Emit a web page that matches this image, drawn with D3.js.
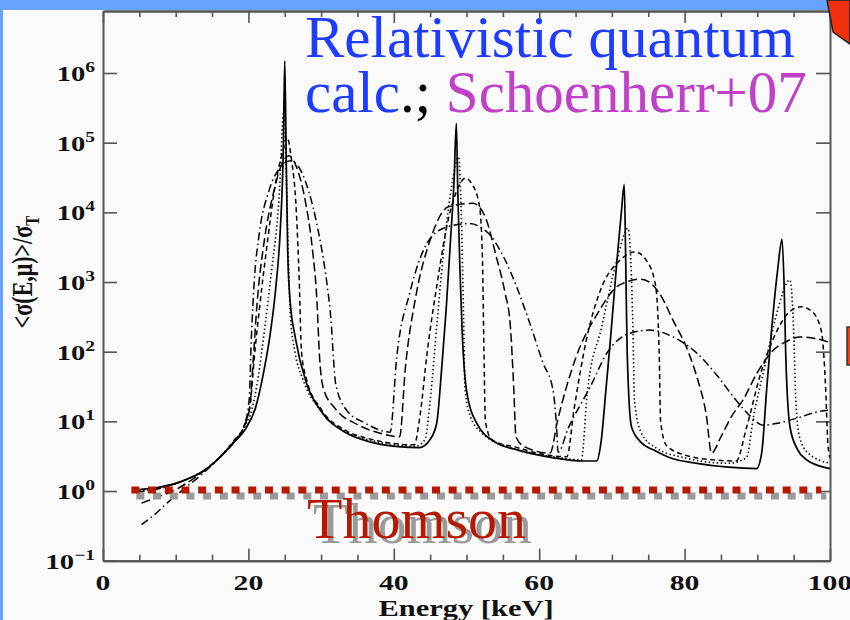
<!DOCTYPE html>
<html>
<head>
<meta charset="utf-8">
<script src="https://cdn.jsdelivr.net/npm/d3@7"></script>
<style>
  html, body { margin: 0; padding: 0; background: #fafafa; }
  svg { display: block; }
</style>
</head>
<body>
<svg width="850" height="620"></svg>
<script>
  // axis ticks
  const energyMajorTicks = [0, 20, 40, 60, 80, 100];
  const energyMinorTicks = [5, 10, 15, 25, 30, 35, 45, 50, 55, 65, 70, 75, 85, 90, 95];
  const sigmaDecades = [0.1, 1, 10, 100, 1e3, 1e4, 1e5, 1e6];
  const decadeExponents = ['\u22121', '0', '1', '2', '3', '4', '5', '6'];

  // <sigma(E,mu)>/sigma_T vs energy [keV], one array per angle (narrow -> broad)
  const sigmaCurve1 = [
    [5, 1.05], [8, 1.15], [11, 1.4], [14, 2.0], [16, 3.0], [18, 5.0], [19.5, 7.5], [21, 16], [22, 45], [23, 180],
    [23.8, 900], [24.4, 6000], [24.8, 80000], [25.0, 1.5e6], [25.2, 60000], [25.4, 3000], [25.7, 600], [26.5, 150],
    [28, 35], [30, 14], [33.5, 6.8], [37, 5.0], [41, 4.3], [43.5, 4.2], [45, 5.5], [45.9, 9.4], [46.6, 60], [47.2, 400],
    [47.8, 4000], [48.3, 30000], [48.6, 1.9e5], [48.8, 20000], [49.1, 1500], [49.4, 200], [50.0, 28], [51.4, 9.4],
    [54, 5.0], [57, 3.9], [62, 3.0], [66, 2.7], [67.9, 2.7], [68.5, 5], [69.2, 30], [69.8, 150], [70.7, 2070],
    [71.3, 10000], [71.7, 2.5e4], [71.9, 2000], [72.1, 100], [72.7, 8.3], [74, 5.0], [75.7, 3.9], [78, 3.0],
    [81.7, 2.5], [86, 2.2], [89.9, 2.1], [90.6, 3.5], [91.3, 30], [92.0, 225], [92.8, 1500], [93.4, 4100],
    [93.7, 800], [93.9, 100], [94.5, 8.3], [95.5, 4.0], [96.8, 2.8], [98.5, 2.3], [100, 2.1]
  ];
  const sigmaCurve2 = [
    [5, 1.0], [8, 1.1], [11, 1.4], [14, 2.0], [16, 3.0], [18, 5.2], [19.5, 8.5], [20.5, 15], [21.3, 40], [22.2, 200],
    [23.2, 1500], [24.2, 15000], [24.9, 3e5], [25.2, 40000], [25.5, 2000], [25.8, 300], [26.4, 100], [27.5, 40],
    [30, 14], [33.5, 7], [37, 5.3], [40, 4.6], [43, 4.4], [44.3, 5.5], [45, 20], [46, 300], [47, 4000], [48, 25000],
    [48.9, 6.2e4], [49.3, 8000], [49.6, 300], [49.8, 30], [50.5, 12], [52, 7], [56, 4.2], [62, 3.1], [65.8, 2.8],
    [66.6, 25], [68.6, 228], [70.7, 2070], [72.2, 5900], [72.6, 2000], [72.9, 200], [73.1, 20], [74, 7], [76, 4.2],
    [80, 3.0], [86, 2.5], [88.5, 3], [89.5, 12], [91, 60], [92.5, 300], [94.5, 1070], [95.0, 200], [95.3, 20],
    [95.8, 6], [97, 3.5], [100, 2.5]
  ];
  const sigmaCurve3 = [
    [5, 0.97], [8, 1.1], [11, 1.4], [14, 2.0], [16, 3.0], [18, 5.3], [19.5, 9], [20.3, 20], [20.8, 80], [21.5, 400],
    [22.5, 3000], [23.7, 25000], [24.8, 80000], [25.3, 1.2e5], [25.9, 60000], [26.6, 10000], [27.0, 1000],
    [27.3, 100], [28, 40], [30, 15], [33.5, 7.3], [37, 5.5], [40, 4.8], [42.8, 4.6], [43.6, 12], [44.6, 100],
    [46, 1000], [47.5, 8000], [48.8, 22000], [49.8, 3.1e4], [50.8, 25000], [51.8, 12000], [52.2, 2000], [52.4, 100],
    [52.6, 10], [53.5, 5.4], [57, 4.2], [61, 3.3], [63.8, 3.1], [64.8, 15], [66.5, 150], [68.5, 800], [71, 2000],
    [73.2, 2700], [74.8, 2000], [76.0, 900], [76.5, 100], [76.7, 10], [77.5, 4.5], [80, 3.3], [84, 2.8], [87.1, 2.7],
    [88.5, 8], [90.5, 50], [92.5, 180], [94.5, 380], [96, 440], [97.5, 380], [98.8, 200], [99.4, 30], [99.7, 5], [100, 3.0]
  ];
  const sigmaCurve4 = [
    [5.3, 0.67], [7.5, 0.82], [9.6, 1.0], [12, 1.4], [14, 2.0], [16, 3.0], [18, 5.0], [19.3, 8], [20.2, 16], [20.6, 60],
    [21.2, 500], [22.2, 4000], [23.5, 20000], [24.8, 55000], [25.6, 65000], [26.6, 45000], [27.8, 15000],
    [28.8, 3000], [29.4, 600], [29.8, 80], [30.3, 30], [32, 15], [35, 9], [38, 6.8], [40.8, 6.0], [41.6, 60],
    [43, 600], [45, 4000], [47.5, 12000], [50.9, 13500], [52.5, 9000], [54.1, 2300], [55.3, 700], [56, 257],
    [56.5, 30], [56.8, 6], [58, 4.3], [61.5, 3.5], [62.5, 10], [65, 80], [68, 350], [71, 900], [74, 1100],
    [76.5, 700], [78.4, 284], [80.5, 100], [81.7, 43], [83, 12], [83.7, 3.5], [85, 6], [86.5, 12], [88, 20],
    [90, 50], [92.2, 105], [94, 140], [95.9, 163], [98, 155], [100, 135]
  ];
  const sigmaCurve5 = [
    [5.3, 0.33], [7, 0.45], [9, 0.7], [11.5, 1.15], [13.5, 1.7], [16, 3.0], [18, 5.0], [19.3, 8], [20.1, 20],
    [20.4, 150], [20.8, 1000], [21.5, 5000], [22.8, 20000], [24.2, 42000], [25.8, 55000], [27.2, 40000],
    [28.3, 20000], [29.4, 6900], [30.2, 2500], [30.8, 960], [31.4, 250], [31.7, 80], [32, 35], [33.5, 14.5],
    [36, 9.5], [39.5, 7.0], [40.4, 83], [42.2, 700], [44.5, 3500], [47, 6000], [50.3, 6900], [53, 5000],
    [55.1, 2300], [57, 800], [58.7, 257], [60.5, 70], [61.9, 28], [62.4, 8], [62.6, 3.6], [64, 8], [67, 31],
    [69.3, 95], [72.5, 184], [75.2, 204], [78.4, 163], [81.7, 95], [84.5, 45], [87.1, 20], [89, 12], [90.8, 8.8],
    [93, 9.5], [95.9, 11.5], [98, 13.5], [100, 14.5]
  ];
  const sigmaCurves = [sigmaCurve1, sigmaCurve2, sigmaCurve3, sigmaCurve4, sigmaCurve5];

  // Thomson level and the energy span of its marker line
  const thomsonLevel = 1;
  const thomsonSpan = [3.9, 98.8];

  const curveDashes = [null, '1.4,2.6', '5,3.5', '9,4', '8,3.5,1.5,3.5'];
  const curveWidths = [1.7, 1.6, 1.5, 1.5, 1.5];

  const serif = '"Liberation Serif", "Times New Roman", serif';
  const svg = d3.select('svg');

  // slide background + blue slide frame
  svg.append('rect').attr('width', 850).attr('height', 620).attr('fill', '#fafafa');
  svg.append('rect').attr('x', 0).attr('y', 0).attr('width', 850).attr('height', 10).attr('fill', '#66a3ff');
  svg.append('rect').attr('x', 0).attr('y', 0).attr('width', 3).attr('height', 620).attr('fill', '#66a3ff');

  // scales
  const x = d3.scaleLinear().domain([0, 100]).range([103, 830]);
  const y = d3.scaleLog().domain([0.1, Math.pow(10, 6.89)]).range([560.7, 11]);

  const frameColor = '#555';

  const styleAxis = g => {
    g.select('.domain').attr('stroke', frameColor).attr('stroke-width', 2);
    g.selectAll('.tick line').attr('stroke', frameColor).attr('stroke-width', 1.6);
    g.selectAll('.tick text').remove();
  };

  // bottom / top axes (ticks pointing inward)
  svg.append('g').attr('transform', 'translate(0,560.7)')
    .call(d3.axisBottom(x).tickValues(energyMajorTicks).tickSizeInner(-12).tickSizeOuter(0)).call(styleAxis);
  svg.append('g').attr('transform', 'translate(0,560.7)')
    .call(d3.axisBottom(x).tickValues(energyMinorTicks).tickSizeInner(-6).tickSizeOuter(0)).call(styleAxis);
  svg.append('g').attr('transform', 'translate(0,11)')
    .call(d3.axisTop(x).tickValues(energyMajorTicks).tickSizeInner(-12).tickSizeOuter(0)).call(styleAxis);
  svg.append('g').attr('transform', 'translate(0,11)')
    .call(d3.axisTop(x).tickValues(energyMinorTicks).tickSizeInner(-6).tickSizeOuter(0)).call(styleAxis);

  // left / right axes
  svg.append('g').attr('transform', 'translate(103,0)')
    .call(d3.axisLeft(y).tickValues(sigmaDecades).tickSizeInner(-14).tickSizeOuter(0)).call(styleAxis);
  svg.append('g').attr('transform', 'translate(830,0)')
    .call(d3.axisRight(y).tickValues(sigmaDecades).tickSizeInner(-14).tickSizeOuter(0)).call(styleAxis);

  // y tick labels 10^n (figure text is stretched horizontally)
  svg.append('g').selectAll('text').data(sigmaDecades).enter()
    .append('text')
    .attr('transform', d => `translate(95,${y(d) + 8}) scale(1.3,1)`)
    .attr('text-anchor', 'end')
    .attr('font-family', serif)
    .attr('font-weight', 'bold')
    .attr('font-size', 22)
    .attr('fill', '#111')
    .each(function (d, i) {
      const t = d3.select(this);
      t.append('tspan').text('10');
      t.append('tspan').attr('dy', -9).attr('font-size', 15).text(decadeExponents[i]);
    });

  // x tick labels
  svg.append('g').selectAll('text').data(energyMajorTicks).enter()
    .append('text')
    .attr('transform', d => `translate(${x(d)},590) scale(1.35,1)`)
    .attr('text-anchor', 'middle')
    .attr('font-family', serif)
    .attr('font-weight', 'bold')
    .attr('font-size', 22)
    .attr('fill', '#111')
    .text(d => d);

  // axis titles
  svg.append('text')
    .attr('transform', 'translate(466,616) scale(1.27,1)')
    .attr('text-anchor', 'middle')
    .attr('font-family', serif)
    .attr('font-weight', 'bold')
    .attr('font-size', 24)
    .attr('fill', '#111')
    .text('Energy [keV]');

  const yTitle = svg.append('text')
    .attr('transform', 'translate(32,272) scale(1.3,1) rotate(-90)')
    .attr('text-anchor', 'middle')
    .attr('font-family', serif)
    .attr('font-weight', 'bold')
    .attr('font-size', 22)
    .attr('fill', '#111');
  yTitle.append('tspan').text('<\u03c3(E,\u03bc)>/\u03c3');
  yTitle.append('tspan').attr('dy', 5).attr('font-size', 15).text('T');

  // curves
  svg.append('clipPath').attr('id', 'plotClip')
    .append('rect').attr('x', 103).attr('y', 11).attr('width', 727).attr('height', 549.7);

  const lineGen = d3.line()
    .x(d => x(d[0]))
    .y(d => y(d[1]))
    .curve(d3.curveMonotoneX);

  svg.append('g').attr('clip-path', 'url(#plotClip)')
    .selectAll('path').data(sigmaCurves).enter()
    .append('path')
    .attr('d', lineGen)
    .attr('fill', 'none')
    .attr('stroke', '#000')
    .attr('stroke-width', (d, i) => curveWidths[i])
    .attr('stroke-dasharray', (d, i) => curveDashes[i])
    .attr('stroke-linejoin', 'round');

  // Thomson marker line with drop shadow
  const thomsonY = y(thomsonLevel) - 1;
  [['#9a9a9a', 5, 6], ['#b51a00', 0, 0]].forEach(([col, dx, dy]) => {
    svg.append('line')
      .attr('x1', x(thomsonSpan[0]) + dx).attr('x2', x(thomsonSpan[1]) + dx)
      .attr('y1', thomsonY + dy).attr('y2', thomsonY + dy)
      .attr('stroke', col).attr('stroke-width', 7)
      .attr('stroke-dasharray', '8,8.7');
  });
  [['#9a9a9a', 313, 543], ['#b51a00', 307, 538]].forEach(([col, tx, ty]) => {
    svg.append('text')
      .attr('x', tx).attr('y', ty)
      .attr('font-family', serif).attr('font-size', 58)
      .attr('fill', col)
      .text('Thomson');
  });

  // overlay title
  svg.append('text')
    .attr('x', 305).attr('y', 57)
    .attr('font-family', serif).attr('font-size', 59)
    .attr('fill', '#1e3cff')
    .text('Relativistic quantum');
  const line2 = svg.append('text')
    .attr('x', 305).attr('y', 112)
    .attr('font-family', serif).attr('font-size', 59);
  line2.append('tspan').attr('fill', '#1e3cff').text('calc');
  line2.append('tspan').attr('fill', '#000').text('.; ');
  line2.append('tspan').attr('fill', '#c040c8').text('Schoenherr+07');

  // slide decorations at the right edge
  svg.append('polygon')
    .attr('points', '827,0 833,32 850,44 850,0')
    .attr('fill', '#f2300e').attr('stroke', '#222').attr('stroke-width', 1.5);
  svg.append('rect')
    .attr('x', 847).attr('y', 327).attr('width', 10).attr('height', 38)
    .attr('fill', '#e8401a').attr('stroke', '#333').attr('stroke-width', 1.5);
</script>
</body>
</html>
